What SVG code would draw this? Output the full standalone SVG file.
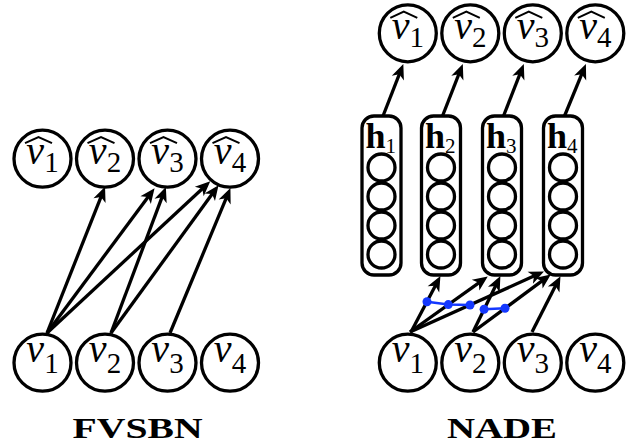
<svg xmlns="http://www.w3.org/2000/svg" width="626" height="444" viewBox="0 0 626 444">
<style>
.nd circle{fill:#fff;stroke:#000;stroke-width:3.3}
.v{font-family:"Liberation Serif",serif;font-style:italic;font-size:40px;fill:#000}
.sub{font-style:normal;font-size:29px}
.hat{fill:none;stroke:#000;stroke-width:2;stroke-linejoin:miter}
.conn line{stroke:#000;stroke-width:3.3;marker-end:url(#ah)}
.box rect{fill:#fff;stroke:#000;stroke-width:3.3}
.box circle{fill:none;stroke:#000;stroke-width:3.3}
.h{font-family:"Liberation Serif",serif;font-weight:bold;font-size:36px;fill:#000}
.hs{font-weight:normal;font-size:21px}
.ttl{font-family:"Liberation Serif",serif;font-weight:bold;font-size:29px;fill:#000}
.blue line,.blue polyline{stroke:#1438ff;stroke-width:2.5;fill:none}
.blue circle{fill:#1438ff}
</style>
<defs>
<marker id="ah" markerUnits="userSpaceOnUse" markerWidth="24" markerHeight="16" viewBox="-14 -8 24 16" refX="0" refY="0" orient="auto" overflow="visible">
<path d="M5,0 L-10,-6.5 L-6,0 L-10,6.5 z" fill="#000"/>
</marker>
</defs>

<!-- FVSBN top row -->
<g id="f-vh1" class="nd"><circle cx="42.5" cy="158.7" r="28.5"/><path class="hat" d="M25,143.2 L38.5,137 L52,143.2"/><text class="v" x="42.5" y="164" text-anchor="middle">v<tspan class="sub" dy="8">1</tspan></text></g>
<g id="f-vh2" class="nd"><circle cx="105" cy="158.7" r="28.5"/><path class="hat" d="M87.5,143.2 L101,137 L114.5,143.2"/><text class="v" x="105" y="164" text-anchor="middle">v<tspan class="sub" dy="8">2</tspan></text></g>
<g id="f-vh3" class="nd"><circle cx="167.5" cy="158.7" r="28.5"/><path class="hat" d="M150,143.2 L163.5,137 L177,143.2"/><text class="v" x="167.5" y="164" text-anchor="middle">v<tspan class="sub" dy="8">3</tspan></text></g>
<g id="f-vh4" class="nd"><circle cx="230" cy="158.7" r="28.5"/><path class="hat" d="M212.5,143.2 L226,137 L239.5,143.2"/><text class="v" x="230" y="164" text-anchor="middle">v<tspan class="sub" dy="8">4</tspan></text></g>

<!-- FVSBN bottom row -->
<g id="f-v1" class="nd"><circle cx="42.5" cy="362.7" r="28.5"/><text class="v" x="42.5" y="362" text-anchor="middle">v<tspan class="sub" dy="11">1</tspan></text></g>
<g id="f-v2" class="nd"><circle cx="105" cy="362.7" r="28.5"/><text class="v" x="105" y="362" text-anchor="middle">v<tspan class="sub" dy="11">2</tspan></text></g>
<g id="f-v3" class="nd"><circle cx="167.5" cy="362.7" r="28.5"/><text class="v" x="167.5" y="362" text-anchor="middle">v<tspan class="sub" dy="11">3</tspan></text></g>
<g id="f-v4" class="nd"><circle cx="230" cy="362.7" r="28.5"/><text class="v" x="230" y="362" text-anchor="middle">v<tspan class="sub" dy="11">4</tspan></text></g>

<!-- NADE top row -->
<g id="n-vh1" class="nd"><circle cx="407.8" cy="33.3" r="28.5"/><path class="hat" d="M390.3,17.8 L403.8,11.6 L417.3,17.8"/><text class="v" x="407.8" y="38.6" text-anchor="middle">v<tspan class="sub" dy="8">1</tspan></text></g>
<g id="n-vh2" class="nd"><circle cx="470.3" cy="33.3" r="28.5"/><path class="hat" d="M452.8,17.8 L466.3,11.6 L479.8,17.8"/><text class="v" x="470.3" y="38.6" text-anchor="middle">v<tspan class="sub" dy="8">2</tspan></text></g>
<g id="n-vh3" class="nd"><circle cx="532.8" cy="33.3" r="28.5"/><path class="hat" d="M515.3,17.8 L528.8,11.6 L542.3,17.8"/><text class="v" x="532.8" y="38.6" text-anchor="middle">v<tspan class="sub" dy="8">3</tspan></text></g>
<g id="n-vh4" class="nd"><circle cx="595.3" cy="33.3" r="28.5"/><path class="hat" d="M577.8,17.8 L591.3,11.6 L604.8,17.8"/><text class="v" x="595.3" y="38.6" text-anchor="middle">v<tspan class="sub" dy="8">4</tspan></text></g>

<!-- NADE hidden layers -->
<g id="n-h1" class="box"><rect x="362" y="116" width="39" height="159" rx="12"/><circle cx="381.5" cy="167.5" r="13.5"/><circle cx="381.5" cy="196.5" r="13.5"/><circle cx="381.5" cy="225.5" r="13.5"/><circle cx="381.5" cy="254.5" r="13.5"/><text class="h" x="365.5" y="148">h<tspan class="hs" dy="5">1</tspan></text></g>
<g id="n-h2" class="box"><rect x="421.5" y="116" width="39" height="159" rx="12"/><circle cx="441" cy="167.5" r="13.5"/><circle cx="441" cy="196.5" r="13.5"/><circle cx="441" cy="225.5" r="13.5"/><circle cx="441" cy="254.5" r="13.5"/><text class="h" x="425" y="148">h<tspan class="hs" dy="5">2</tspan></text></g>
<g id="n-h3" class="box"><rect x="482.5" y="116" width="39" height="159" rx="12"/><circle cx="502" cy="167.5" r="13.5"/><circle cx="502" cy="196.5" r="13.5"/><circle cx="502" cy="225.5" r="13.5"/><circle cx="502" cy="254.5" r="13.5"/><text class="h" x="486" y="148">h<tspan class="hs" dy="5">3</tspan></text></g>
<g id="n-h4" class="box"><rect x="543.5" y="116" width="39" height="159" rx="12"/><circle cx="563" cy="167.5" r="13.5"/><circle cx="563" cy="196.5" r="13.5"/><circle cx="563" cy="225.5" r="13.5"/><circle cx="563" cy="254.5" r="13.5"/><text class="h" x="547" y="148">h<tspan class="hs" dy="5">4</tspan></text></g>

<!-- NADE bottom row -->
<g id="n-v1" class="nd"><circle cx="407.8" cy="362.7" r="28.5"/><text class="v" x="407.8" y="362" text-anchor="middle">v<tspan class="sub" dy="11">1</tspan></text></g>
<g id="n-v2" class="nd"><circle cx="470.3" cy="362.7" r="28.5"/><text class="v" x="470.3" y="362" text-anchor="middle">v<tspan class="sub" dy="11">2</tspan></text></g>
<g id="n-v3" class="nd"><circle cx="532.8" cy="362.7" r="28.5"/><text class="v" x="532.8" y="362" text-anchor="middle">v<tspan class="sub" dy="11">3</tspan></text></g>
<g id="n-v4" class="nd"><circle cx="595.3" cy="362.7" r="28.5"/><text class="v" x="595.3" y="362" text-anchor="middle">v<tspan class="sub" dy="11">4</tspan></text></g>

<!-- connectors -->
<g id="connectors" class="conn">
<line x1="47" y1="333" x2="103.2" y2="191.3"/>
<line x1="47" y1="333" x2="151.6" y2="192.2"/>
<line x1="47" y1="333" x2="206.6" y2="184.7"/>
<line x1="111" y1="333" x2="164.1" y2="191.7"/>
<line x1="111" y1="333" x2="215.6" y2="189.2"/>
<line x1="170" y1="333" x2="228.5" y2="192.7"/>

<line x1="383" y1="116" x2="401.5" y2="68.7"/>
<line x1="442.5" y1="116" x2="461" y2="68.7"/>
<line x1="503.5" y1="116" x2="522" y2="68.7"/>
<line x1="564.5" y1="116" x2="584" y2="68.7"/>

<line x1="411" y1="332" x2="438.1" y2="280.5"/>
<line x1="410" y1="332" x2="483.7" y2="279.3"/>
<line x1="410" y1="332" x2="539.4" y2="273.6"/>
<line x1="473" y1="332" x2="498.2" y2="280.6"/>
<line x1="473" y1="332" x2="546.8" y2="277.4"/>
<line x1="532" y1="332" x2="558.2" y2="280.6"/>
</g>

<!-- shared weights -->
<g id="tied" class="blue">
<polyline points="427,301.7 448.3,304.6 470,305"/>
<line x1="484.1" y1="309.3" x2="505" y2="308.3"/>
<circle cx="427" cy="301.7" r="4.5"/>
<circle cx="448.3" cy="304.6" r="4.5"/>
<circle cx="470" cy="305" r="4.5"/>
<circle cx="484.1" cy="309.3" r="4.5"/>
<circle cx="505" cy="308.3" r="4.5"/>
</g>

<text class="ttl" x="72.6" y="437.5" textLength="130" lengthAdjust="spacingAndGlyphs">FVSBN</text>
<text class="ttl" x="447" y="437.5" textLength="110" lengthAdjust="spacingAndGlyphs">NADE</text>
</svg>
